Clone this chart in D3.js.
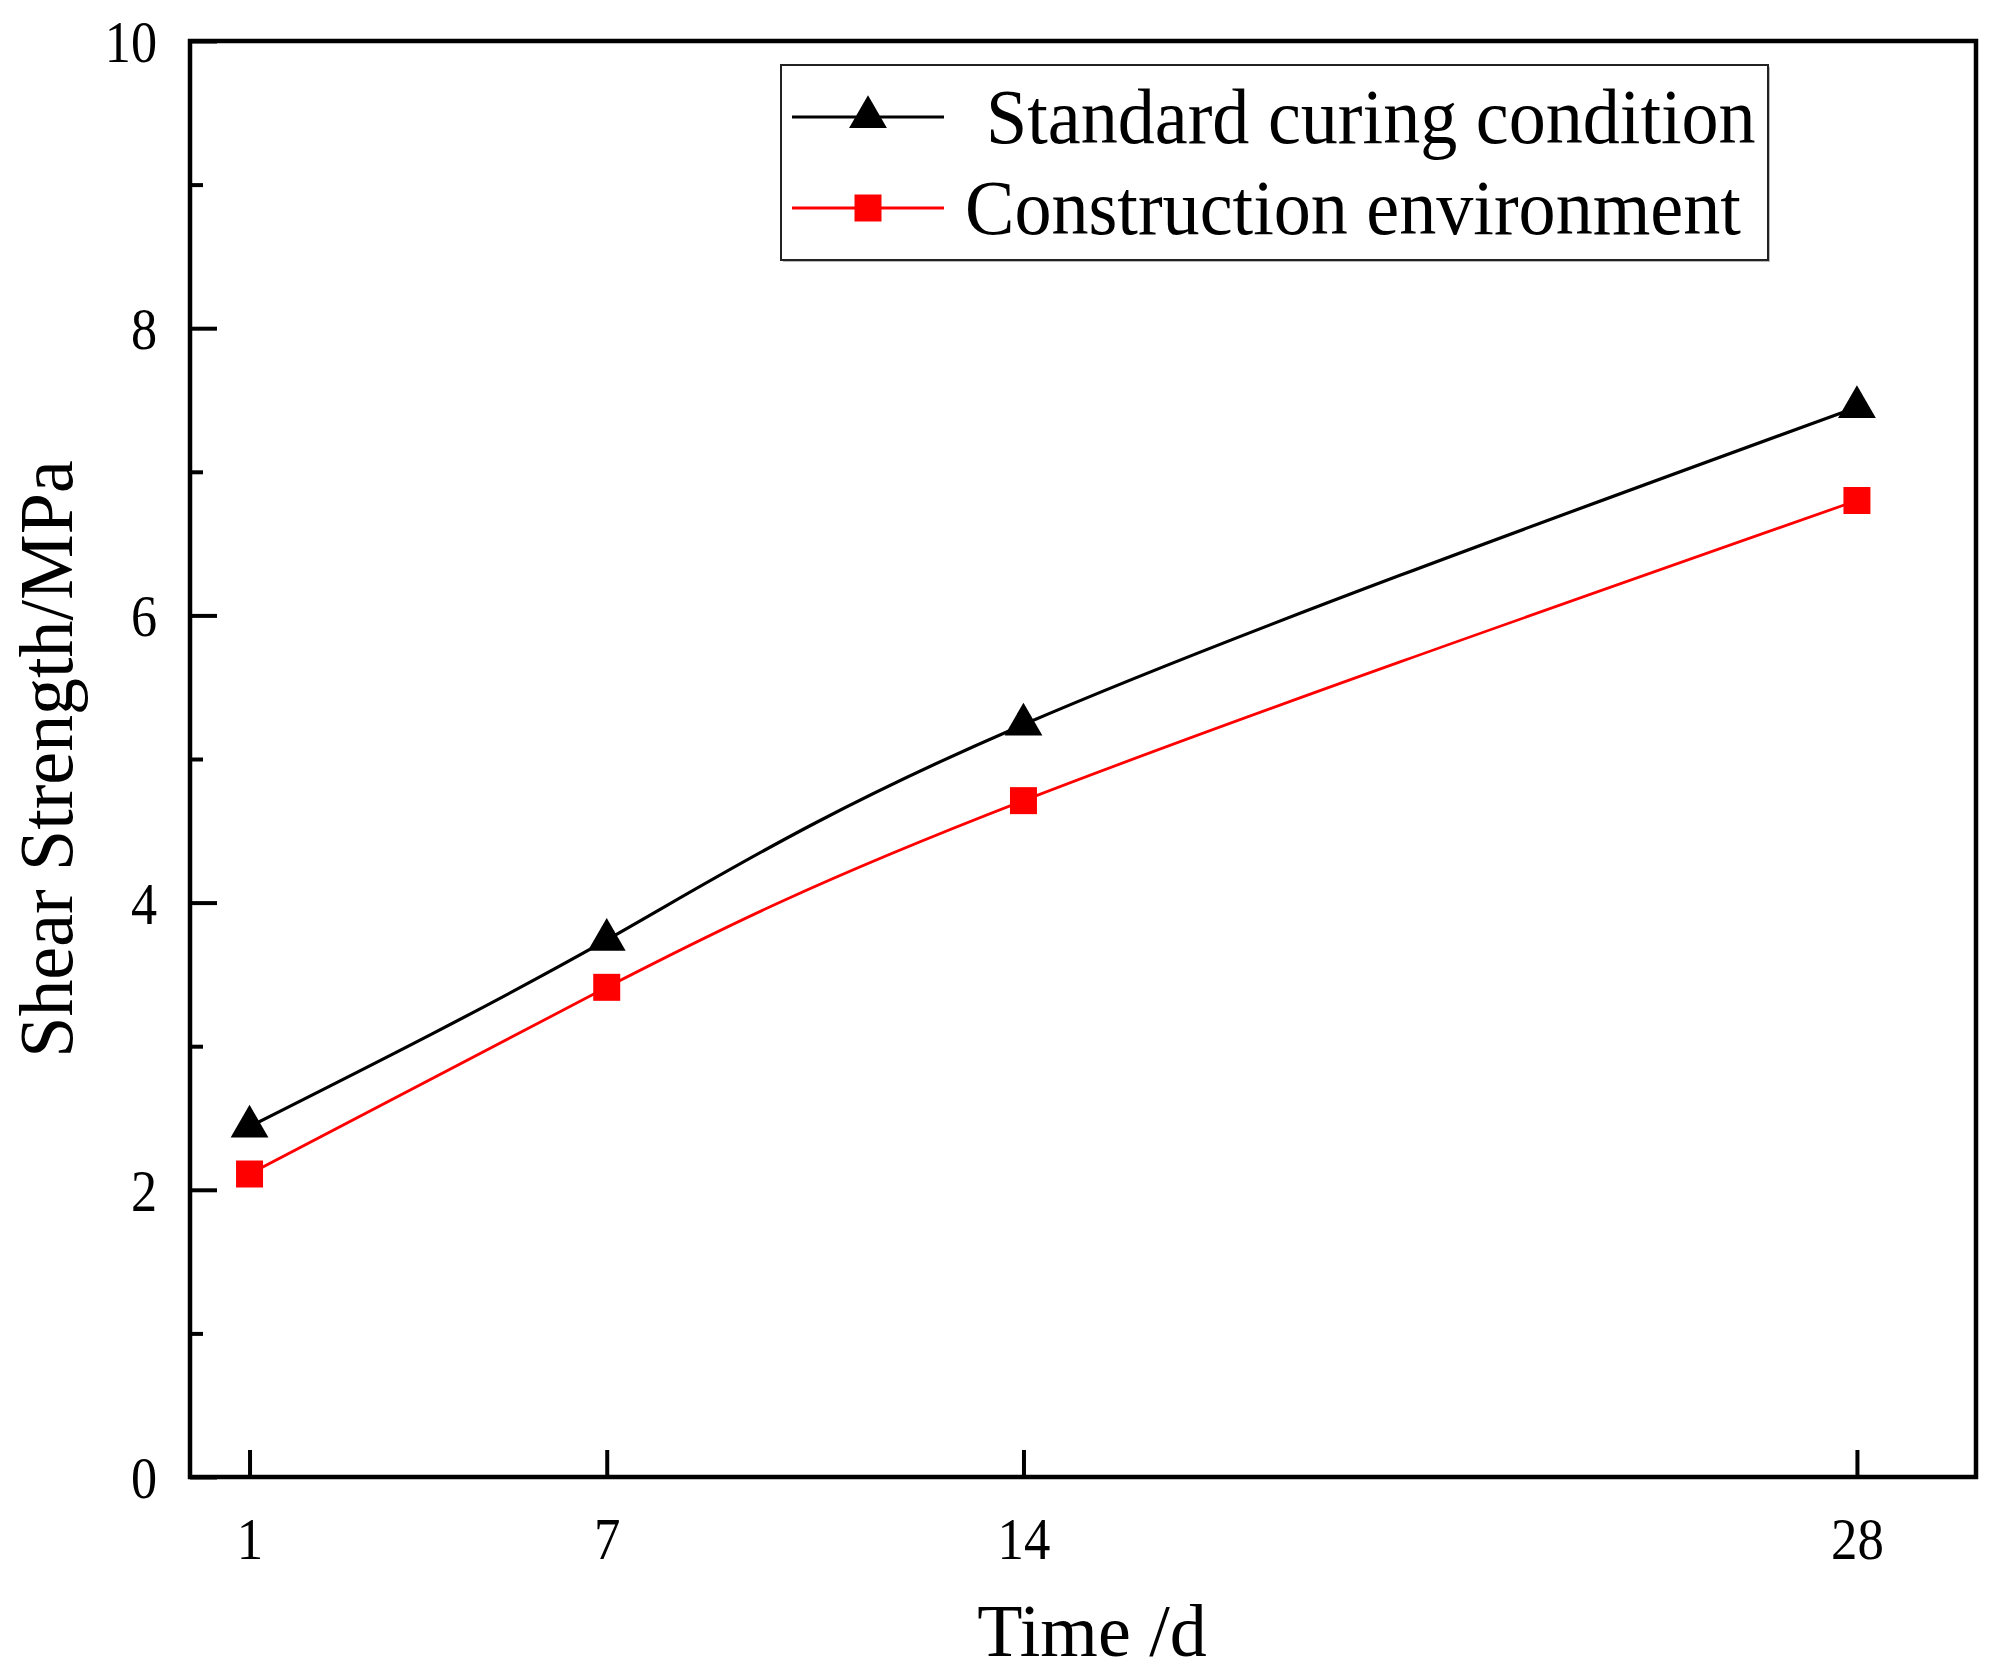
<!DOCTYPE html>
<html>
<head>
<meta charset="utf-8">
<script src="https://cdn.jsdelivr.net/npm/d3@7"></script>
<style>
  html, body { margin: 0; padding: 0; background: #fff; }
  text { font-family: "Liberation Serif", "Times New Roman", serif; fill: #000; }
</style>
</head>
<body>
<svg id="chart"></svg>
<script>
// data
const days = [1, 7, 14, 28];
const standardCuring = [2.44, 3.74, 5.24, 7.45];
const constructionEnv = [2.11, 3.41, 4.71, 6.80];
const seriesNames = ['Standard curing condition', 'Construction environment'];
const yMajorTicks = [0, 2, 4, 6, 8, 10];
const yMinorTicks = [1, 3, 5, 7, 9];
const xTicks = [1, 7, 14, 28];

const config = {
    width: 2003,
    height: 1676,
    margin: {top: 41, right: 27, bottom: 199, left: 190},
    frameWidth: 4.5,
    majorTick: 27,
    minorTick: 13
};
const innerW = config.width - config.margin.left - config.margin.right;
const innerH = config.height - config.margin.top - config.margin.bottom;

const svg = d3.select('#chart')
    .attr('width', config.width)
    .attr('height', config.height);

const g = svg.append('g')
    .attr('transform', `translate(${config.margin.left},${config.margin.top})`);

const x = d3.scaleLinear().domain([0, 30]).range([0, innerW]);
const y = d3.scaleLinear().domain([0, 10]).range([innerH, 0]);

// squeeze text a little, the source font is narrower than Times
function squeeze(sel, k) {
    sel.each(function() {
        const w = this.getComputedTextLength();
        d3.select(this).attr('textLength', w * k).attr('lengthAdjust', 'spacingAndGlyphs');
    });
}

// axes (ticks point inward)
const xAxis = d3.axisBottom(x)
    .tickValues(xTicks)
    .tickSizeInner(-config.majorTick)
    .tickSizeOuter(0)
    .tickPadding(39)
    .tickFormat(d3.format('d'));

const yAxis = d3.axisLeft(y)
    .tickValues(yMajorTicks)
    .tickSizeInner(-config.majorTick)
    .tickSizeOuter(0)
    .tickPadding(33)
    .tickFormat(d3.format('d'));

const yMinor = d3.axisLeft(y)
    .tickValues(yMinorTicks)
    .tickSizeInner(-config.minorTick)
    .tickSizeOuter(0)
    .tickFormat('');

const xAxisG = g.append('g')
    .attr('transform', `translate(0,${innerH})`)
    .call(xAxis);
const yAxisG = g.append('g').call(yAxis);
const yMinorG = g.append('g').call(yMinor);

[xAxisG, yAxisG, yMinorG].forEach(a => {
    a.select('.domain').remove();
    a.selectAll('.tick line').attr('stroke', '#000').attr('stroke-width', 4);
    a.selectAll('.tick text')
        .style('font-family', '"Liberation Serif", serif')
        .style('font-size', '60px');
});
yAxisG.selectAll('.tick text').attr('dy', '0.34em');
squeeze(xAxisG.selectAll('.tick text'), 0.88);
squeeze(yAxisG.selectAll('.tick text'), 0.87);

// frame
g.append('rect')
    .attr('x', 0).attr('y', 0)
    .attr('width', innerW).attr('height', innerH)
    .attr('fill', 'none')
    .attr('stroke', '#000')
    .attr('stroke-width', config.frameWidth);

// series
const series = [
    {name: seriesNames[0], values: standardCuring, color: '#000000', symbol: d3.symbolTriangle, size: 620, width: 3.2},
    {name: seriesNames[1], values: constructionEnv, color: '#ff0000', symbol: d3.symbolSquare, size: 729, width: 2.8}
];

const line = d3.line()
    .x((d, i) => x(days[i]))
    .y(d => y(d))
    .curve(d3.curveNatural);

series.forEach(s => {
    g.append('path')
        .datum(s.values)
        .attr('fill', 'none')
        .attr('stroke', s.color)
        .attr('stroke-width', s.width)
        .attr('d', line);

    g.selectAll(null)
        .data(s.values)
        .join('path')
        .attr('transform', (d, i) => `translate(${x(days[i])},${y(d)})`)
        .attr('d', d3.symbol().type(s.symbol).size(s.size))
        .attr('fill', s.color);
});

// axis titles
svg.append('text')
    .attr('x', 1092)
    .attr('y', 1656)
    .attr('text-anchor', 'middle')
    .style('font-size', '74px')
    .text('Time /d');

const yTitle = svg.append('text')
    .attr('transform', `translate(72,${config.margin.top + innerH / 2}) rotate(-90)`)
    .attr('text-anchor', 'middle')
    .style('font-size', '77px')
    .text('Shear Strength/MPa');
squeeze(yTitle, 0.96);

// legend
const legend = svg.append('g');
legend.append('rect')
    .attr('x', 783).attr('y', 67)
    .attr('width', 987).attr('height', 195)
    .attr('fill', '#bbb');
legend.append('rect')
    .attr('x', 781).attr('y', 65)
    .attr('width', 987).attr('height', 195)
    .attr('fill', '#fff')
    .attr('stroke', '#222')
    .attr('stroke-width', 2);

const rowY = [117, 208];
const textX = [986, 965];
series.forEach((s, i) => {
    legend.append('line')
        .attr('x1', 792).attr('x2', 944)
        .attr('y1', rowY[i]).attr('y2', rowY[i])
        .attr('stroke', s.color)
        .attr('stroke-width', s.width);
    legend.append('path')
        .attr('transform', `translate(868,${rowY[i]})`)
        .attr('d', d3.symbol().type(s.symbol).size(s.size))
        .attr('fill', s.color);
    const t = legend.append('text')
        .attr('x', textX[i])
        .attr('y', rowY[i] + 26)
        .style('font-size', '78px')
        .text(s.name);
    squeeze(t, 0.95);
});
</script>
</body>
</html>
